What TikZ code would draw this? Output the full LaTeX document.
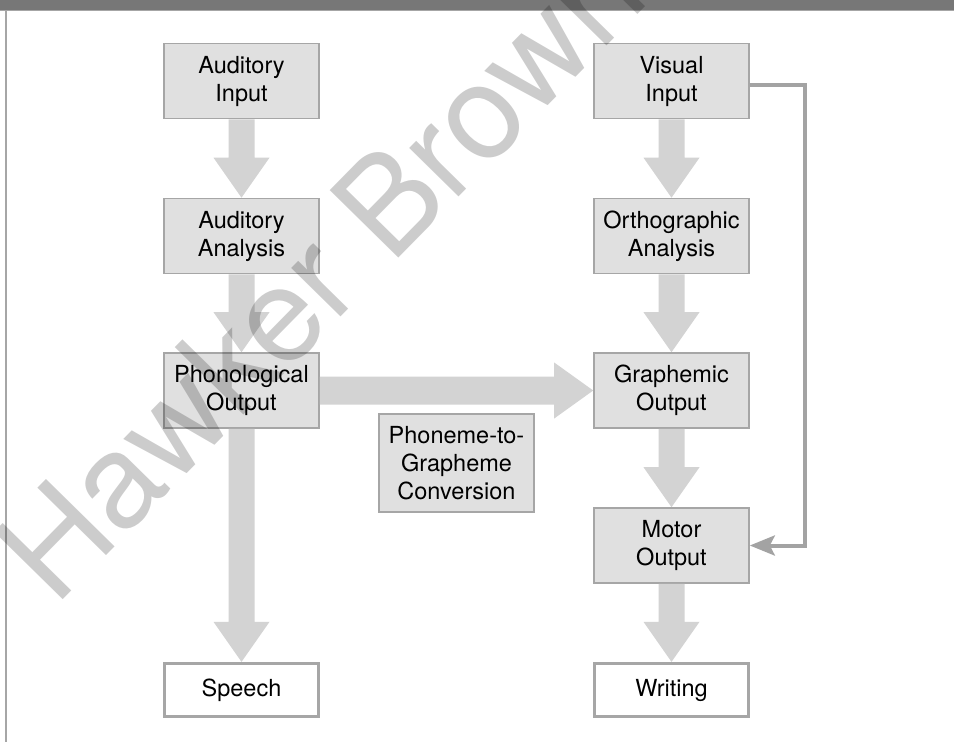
\documentclass[tikz,border=0pt]{standalone}
\usepackage{fontspec}
\setmainfont{TeX Gyre Heros}
\usetikzlibrary{calc,arrows.meta}
\definecolor{boxfill}{HTML}{E0E0E0}
\definecolor{boxline}{HTML}{A6A6A6}
\definecolor{blkfill}{HTML}{D3D3D3}
\definecolor{fbline}{HTML}{A3A3A3}
\definecolor{topbar}{HTML}{777777}
\newcommand\bdown[2]{%
  \fill[blk] ($(#1.south)+(-13,0)$) -- ($(#2.north)+(-13,-40)$) -- ($(#2.north)+(-28,-40)$)
   -- (#2.north) -- ($(#2.north)+(28,-40)$) -- ($(#2.north)+(13,-40)$) -- ($(#1.south)+(13,0)$) -- cycle;}
\begin{document}
\begin{tikzpicture}[x=1pt,y=-1pt,
  procbox/.style={draw=boxline,line width=1.6pt,fill=boxfill,minimum width=155pt,minimum height=75pt,inner sep=0pt,align=center,font=\fontsize{23.5}{28}\selectfont},
  endbox/.style={draw=boxline,line width=3.3pt,fill=white,minimum width=154pt,minimum height=53pt,inner sep=0pt,align=center,font=\fontsize{23.5}{28}\selectfont},
  blk/.style={fill=blkfill},
  fb/.style={draw=fbline,line width=4pt,-{Stealth[length=25pt,width=20pt,inset=5pt]}}]
\useasboundingbox (0,0) rectangle (954,742);
\fill[white] (0,0) rectangle (954,742);
\fill[topbar] (0,0) rectangle (954,10);
\draw[boxline,line width=1pt] (0,10.5) -- (954,10.5);
\draw[boxline,line width=2pt] (6,10) -- (6,742);
% nodes
\node[procbox] (ai) at (241.5,81) {Auditory\\Input};
\node[procbox] (aa) at (241.5,236) {Auditory\\Analysis};
\node[procbox] (po) at (241.5,390.5) {Phonological\\Output};
\node[procbox] (vi) at (671.5,81) {Visual\\Input};
\node[procbox] (oa) at (671.5,236) {Orthographic\\Analysis};
\node[procbox] (go) at (671.5,390.5) {Graphemic\\Output};
\node[procbox] (mo) at (671.5,545.5) {Motor\\Output};
\node[procbox,minimum height=98pt] (pgc) at (456.5,463) {Phoneme-to-\\Grapheme\\Conversion};
\node[endbox] (sp) at (241.5,690) {Speech};
\node[endbox] (wr) at (671.5,690) {Writing};
% block arrows
\bdown{ai}{aa}
\bdown{aa}{po}
\bdown{po}{sp}
\bdown{vi}{oa}
\bdown{oa}{go}
\bdown{go}{mo}
\bdown{mo}{wr}
\fill[blk] ($(po.east)+(0,-14)$) -- ($(go.west)+(-39,-14)$) -- ($(go.west)+(-39,-28)$)
  -- (go.west) -- ($(go.west)+(-39,28)$) -- ($(go.west)+(-39,14)$) -- ($(po.east)+(0,14)$) -- cycle;
% feedback
\coordinate (fbc) at (805,85);
\draw[fb] ($(vi.east)+(0,4)$) -- (fbc) |- (mo.east);
% watermark
\node[rotate=45.5,anchor=base west,inner sep=0pt,font=\fontsize{132}{132}\selectfont,text=black,opacity=0.2] (wm) at (55,608) {Hawker Brown};
\end{tikzpicture}
\end{document}
